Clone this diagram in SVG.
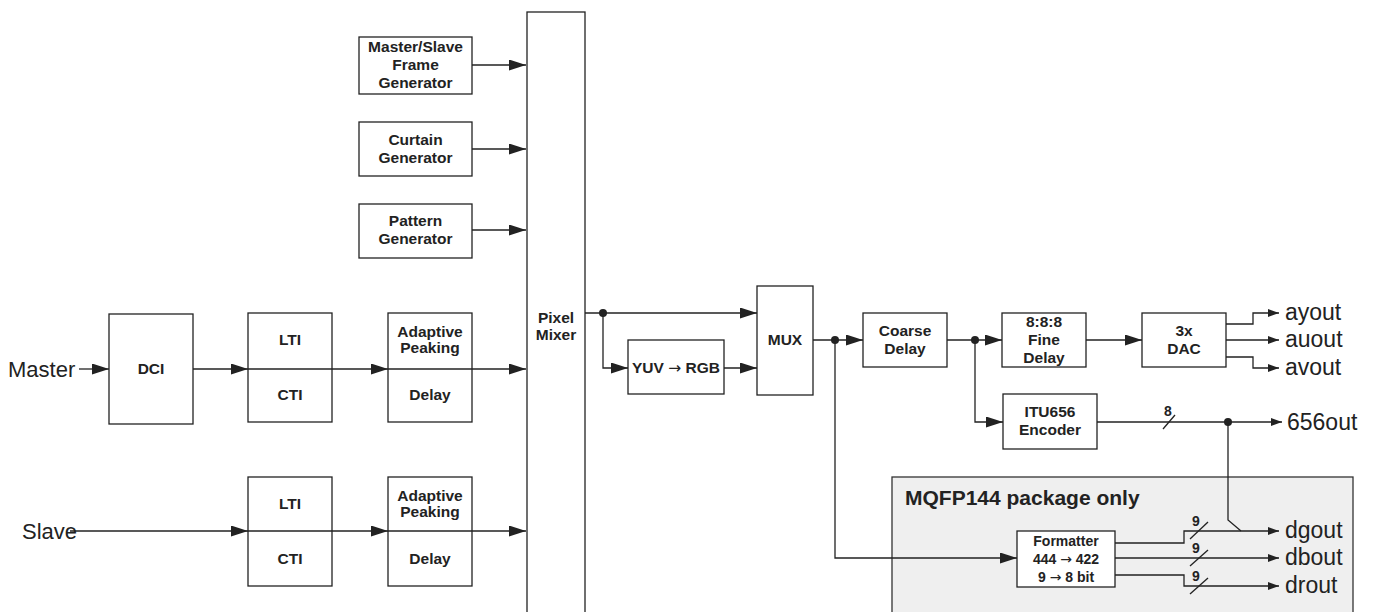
<svg xmlns="http://www.w3.org/2000/svg" width="1375" height="612" viewBox="0 0 1375 612">
<style>
.box{fill:#fff;stroke:#222;stroke-width:1.3}
.pkg{fill:#efefef;stroke:#333;stroke-width:1.3}
.t{font-family:"Liberation Sans",Arial,sans-serif;font-weight:bold;font-size:15.5px;text-anchor:middle;fill:#222}
.s{font-family:"Liberation Sans",Arial,sans-serif;font-weight:bold;font-size:14px;text-anchor:middle;fill:#222}
.lbl{font-family:"Liberation Sans",Arial,sans-serif;font-size:22px;fill:#222}
.out{font-family:"Liberation Sans",Arial,sans-serif;font-size:23px;fill:#222}
.big{font-family:"Liberation Sans",Arial,sans-serif;font-weight:bold;font-size:21px;fill:#222}
.ar{font-family:"DejaVu Sans",sans-serif;font-weight:normal}
.c{fill:none;stroke:#222;stroke-width:1.3}
.ca{fill:none;stroke:#222;stroke-width:1.3;marker-end:url(#big)}
.cs{fill:none;stroke:#222;stroke-width:1.3;marker-end:url(#small)}
.dot{fill:#222}
</style>
<defs>
<marker id="big" markerUnits="userSpaceOnUse" markerWidth="18" markerHeight="12" refX="17" refY="5.5" orient="auto"><path d="M0,0 L17,5.5 L0,11 z" fill="#222"/></marker>
<marker id="small" markerUnits="userSpaceOnUse" markerWidth="12" markerHeight="9" refX="11" refY="4" orient="auto"><path d="M0,0 L11,4 L0,8 z" fill="#222"/></marker>
</defs>

<g id="mqfp">
<rect class="pkg" x="892" y="477" width="461" height="145"/>
<text class="big" x="905" y="505">MQFP144 package only</text>
</g>

<g id="pixel-mixer">
<rect class="box" x="527" y="12" width="58" height="610"/>
<text class="t" x="556" y="323">Pixel</text>
<text class="t" x="556" y="340">Mixer</text>
</g>

<g id="frame-gen">
<rect class="box" x="359" y="37" width="113" height="57"/>
<text class="t" x="415.5" y="52">Master/Slave</text>
<text class="t" x="415.5" y="70">Frame</text>
<text class="t" x="415.5" y="88">Generator</text>
</g>
<g id="curtain-gen">
<rect class="box" x="359" y="122" width="113" height="54"/>
<text class="t" x="415.5" y="145">Curtain</text>
<text class="t" x="415.5" y="163">Generator</text>
</g>
<g id="pattern-gen">
<rect class="box" x="359" y="204" width="113" height="54"/>
<text class="t" x="415.5" y="226">Pattern</text>
<text class="t" x="415.5" y="244">Generator</text>
</g>

<g id="dci">
<rect class="box" x="109" y="314" width="84" height="110"/>
<text class="t" x="151" y="374">DCI</text>
</g>
<g id="lti-cti-master">
<rect class="box" x="248" y="313" width="84" height="109"/>
<text class="t" x="290" y="345">LTI</text>
<text class="t" x="290" y="400">CTI</text>
</g>
<g id="peaking-master">
<rect class="box" x="388" y="313" width="84" height="109"/>
<text class="t" x="430" y="337">Adaptive</text>
<text class="t" x="430" y="353">Peaking</text>
<text class="t" x="430" y="400">Delay</text>
</g>
<g id="lti-cti-slave">
<rect class="box" x="248" y="477" width="84" height="109"/>
<text class="t" x="290" y="509">LTI</text>
<text class="t" x="290" y="564">CTI</text>
</g>
<g id="peaking-slave">
<rect class="box" x="388" y="477" width="84" height="109"/>
<text class="t" x="430" y="501">Adaptive</text>
<text class="t" x="430" y="517">Peaking</text>
<text class="t" x="430" y="564">Delay</text>
</g>

<g id="yuv-rgb">
<rect class="box" x="628" y="340" width="96" height="54"/>
<text class="t" x="676" y="373">YUV <tspan class="ar">→</tspan> RGB</text>
</g>
<g id="mux">
<rect class="box" x="757" y="286" width="56" height="109"/>
<text class="t" x="785" y="345">MUX</text>
</g>
<g id="coarse-delay">
<rect class="box" x="863" y="313" width="84" height="54"/>
<text class="t" x="905" y="336">Coarse</text>
<text class="t" x="905" y="354">Delay</text>
</g>
<g id="fine-delay">
<rect class="box" x="1002" y="313" width="84" height="54"/>
<text class="t" x="1044" y="327">8:8:8</text>
<text class="t" x="1044" y="345">Fine</text>
<text class="t" x="1044" y="363">Delay</text>
</g>
<g id="dac">
<rect class="box" x="1142" y="313" width="84" height="54"/>
<text class="t" x="1184" y="336">3x</text>
<text class="t" x="1184" y="354">DAC</text>
</g>
<g id="itu656">
<rect class="box" x="1003" y="394" width="94" height="55"/>
<text class="t" x="1050" y="417">ITU656</text>
<text class="t" x="1050" y="435">Encoder</text>
</g>
<g id="formatter">
<rect class="box" x="1017" y="531" width="98" height="56"/>
<text class="s" x="1066" y="546">Formatter</text>
<text class="s" x="1066" y="564">444 <tspan class="ar">→</tspan> 422</text>
<text class="s" x="1066" y="582">9 <tspan class="ar">→</tspan> 8 bit</text>
</g>

<g id="labels">
<text class="lbl" x="8" y="377">Master</text>
<text class="lbl" x="22" y="539">Slave</text>
<text class="out" x="1285" y="320">ayout</text>
<text class="out" x="1285" y="347">auout</text>
<text class="out" x="1285" y="375">avout</text>
<text class="out" x="1287" y="430">656out</text>
<text class="out" x="1285" y="538">dgout</text>
<text class="out" x="1285" y="565">dbout</text>
<text class="out" x="1285" y="593">drout</text>
<text class="s" x="1168" y="416">8</text>
<text class="s" x="1196" y="526">9</text>
<text class="s" x="1196" y="553">9</text>
<text class="s" x="1196" y="581">9</text>
</g>

<g id="connectors">
<path class="ca" d="M472,65 H526"/>
<path class="ca" d="M472,149 H526"/>
<path class="ca" d="M472,230 H526"/>
<path class="ca" d="M79,369 H109"/>
<path class="ca" d="M193,369 H248"/>
<path class="c" d="M248,369 H332"/>
<path class="ca" d="M332,369 H388"/>
<path class="c" d="M388,369 H472"/>
<path class="ca" d="M472,369 H526"/>
<path class="ca" d="M70,531 H248"/>
<path class="c" d="M248,531 H332"/>
<path class="ca" d="M332,531 H388"/>
<path class="c" d="M388,531 H472"/>
<path class="ca" d="M472,531 H526"/>
<path class="ca" d="M585,313 H757"/>
<path class="ca" d="M603,313 V368 H628"/>
<circle class="dot" cx="603" cy="313" r="4"/>
<path class="ca" d="M724,368 H757"/>
<path class="ca" d="M813,340 H863"/>
<circle class="dot" cx="835" cy="340" r="4"/>
<path class="ca" d="M835,340 V558 H1017"/>
<path class="ca" d="M947,340 H1002"/>
<circle class="dot" cx="975" cy="340" r="4"/>
<path class="ca" d="M975,340 V422 H1003"/>
<path class="ca" d="M1086,340 H1142"/>
<path class="cs" d="M1226,324 H1253 V313 H1279"/>
<path class="cs" d="M1226,340 H1279"/>
<path class="cs" d="M1226,357 H1253 V368 H1279"/>
<path class="cs" d="M1097,422 H1282"/>
<path class="c" d="M1163,429 L1175,415"/>
<circle class="dot" cx="1228" cy="422" r="4"/>
<path class="c" d="M1228,422 V520 L1241,531"/>
<path class="cs" d="M1115,543 H1184 V531 H1279"/>
<path class="cs" d="M1115,558 H1279"/>
<path class="cs" d="M1115,575 H1184 V586 H1279"/>
<path class="c" d="M1190,539 L1208,522"/>
<path class="c" d="M1190,566 L1208,550"/>
<path class="c" d="M1190,594 L1208,578"/>
</g>
</svg>
